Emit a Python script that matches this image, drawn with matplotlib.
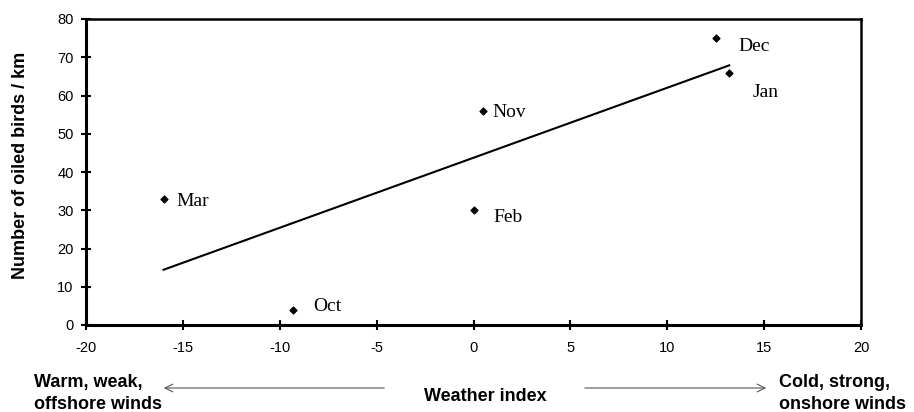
import numpy as np
import matplotlib

matplotlib.use("Agg")
import matplotlib.pyplot as plt

# monthly weather index vs oiled bird density
months = ["Oct", "Nov", "Dec", "Jan", "Feb", "Mar"]
weather_index = [-9.3, 0.5, 12.5, 13.2, 0.0, -16.0]
oiled_birds = [4, 56, 75, 66, 30, 33]

# label offsets (points) for each month name
label_offsets = {
    "Oct": (14.5, 2.2), "Nov": (6.5, -1), "Dec": (16.6, -6),
    "Jan": (17, -14.5), "Feb": (14.4, -5), "Mar": (9.4, -2),
}

plt.rcParams["axes.unicode_minus"] = False
plt.rcParams["font.family"] = ["Liberation Sans", "DejaVu Sans"]

W, H = 914, 412
fig = plt.figure(figsize=(W / 100, H / 100), dpi=100)
ax = fig.add_axes([86 / W, 1 - 325 / H, 775 / W, 306 / H])

ax.scatter(weather_index, oiled_birds, marker="D", s=12, color="black", zorder=3)

# least-squares trend line over the data range
slope, intercept = np.polyfit(weather_index, oiled_birds, 1)
xs = np.array([min(weather_index), max(weather_index)])
ax.plot(xs, slope * xs + intercept, color="black", linewidth=1.5)

for m, x, y in zip(months, weather_index, oiled_birds):
    ax.annotate(m, xy=(x, y), xytext=label_offsets[m], textcoords="offset points",
                ha="left", va="center", fontsize=14, family="Liberation Serif")

ax.set_xlim(-20, 20)
ax.set_ylim(0, 80)
ax.set_xticks(range(-20, 21, 5))
ax.set_yticks(range(0, 81, 10))
ax.tick_params(direction="inout", length=7, width=1.5, labelsize=10.5)
ax.tick_params(axis="x", pad=8)
ax.tick_params(axis="y", pad=5.5)
for side in ["left", "bottom"]:
    ax.spines[side].set_linewidth(2.2)
for side in ["top", "right"]:
    ax.spines[side].set_linewidth(1.8)

fig.text(21 / W, 1 - 165 / H, "Number of oiled birds / km", rotation=90,
         ha="center", va="center", fontsize=13, fontweight="bold")

# weather direction annotations below the axis
bold = dict(fontsize=13, fontweight="bold", va="baseline")
fig.text(34 / W, 1 - 386.7 / H, "Warm, weak,", ha="left", **bold)
fig.text(34 / W, 1 - 409 / H, "offshore winds", ha="left", **bold)
fig.text(485 / W, 1 - 400.7 / H, "Weather index", ha="center", **bold)
fig.text(779 / W, 1 - 386.7 / H, "Cold, strong,", ha="left", **bold)
fig.text(779 / W, 1 - 409 / H, "onshore winds", ha="left", **bold)

arrow_kw = dict(arrowstyle="->", color="#555555", lw=0.8, mutation_scale=14)
fig.add_artist(matplotlib.patches.FancyArrowPatch(
    (387 / W, 1 - 388 / H), (161 / W, 1 - 388 / H),
    transform=fig.transFigure, **arrow_kw))
fig.add_artist(matplotlib.patches.FancyArrowPatch(
    (582 / W, 1 - 388 / H), (769 / W, 1 - 388 / H),
    transform=fig.transFigure, **arrow_kw))

fig.savefig("out.png", dpi=100)
